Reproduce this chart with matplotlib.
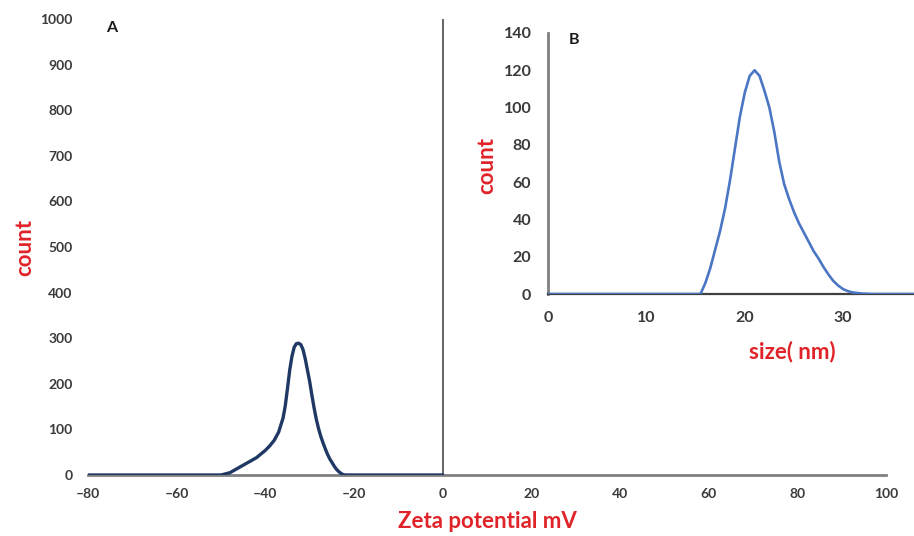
import matplotlib
matplotlib.use("Agg")
import matplotlib.pyplot as plt

plt.rcParams['font.family'] = ['Lato', 'DejaVu Sans']

# Panel A: zeta potential distribution
zeta_mv = [-80, -70, -60, -52, -50, -48, -46, -44, -42, -40, -39, -38, -37, -36,
           -35.5, -35, -34.5, -34, -33.5, -33, -32.5, -32, -31.5, -31, -30.5, -30,
           -29.5, -29, -28.5, -28, -27.5, -27, -26.5, -26, -25.5, -25, -24.5, -24,
           -23.5, -23, -22.5, -22, -20, -10, 0]
zeta_count = [0, 0, 0, 0, 0, 5, 16, 27, 38, 54, 64, 76, 94, 125,
              152, 190, 230, 260, 280, 288, 289, 286, 275, 255, 230, 205,
              175, 147, 122, 102, 85, 71, 58, 46, 36, 28, 20, 13,
              8, 4, 1, 0, 0, 0, 0]
zeta_xticks = [-80, -60, -40, -20, 0, 20, 40, 60, 80, 100]
zeta_yticks = [0, 100, 200, 300, 400, 500, 600, 700, 800, 900, 1000]

# Panel B: size distribution
size_nm = [0, 10, 15.5, 16, 16.5, 17, 17.5, 18, 18.5, 19, 19.5, 20, 20.5, 21,
           21.5, 22, 22.5, 23, 23.5, 24, 24.5, 25, 25.5, 26, 26.5, 27, 27.5, 28,
           28.5, 29, 29.5, 30, 30.5, 31, 32, 33, 37.2]
size_count = [0, 0, 0, 6, 14, 24, 34, 46, 61, 78, 95, 108, 117, 120,
              117, 109, 100, 87, 71, 59, 51, 44, 38, 33, 28, 23, 19, 14.5,
              10.5, 7, 4.5, 2.6, 1.5, 0.8, 0.2, 0, 0]
size_xticks = [0, 10, 20, 30]
size_yticks = [0, 20, 40, 60, 80, 100, 120, 140]

RED = '#e02328'
TICK = '#3a3a3a'

fig = plt.figure(figsize=(9.14, 5.36), dpi=100)

ax = fig.add_axes([88/914, 1-475/536, (886-88)/914, (475-19)/536])
ax.plot(zeta_mv, zeta_count, color='#1f3864', lw=2.4, zorder=3,
        solid_capstyle='round', solid_joinstyle='round')
ax.set_xlim(-80, 100)
ax.set_ylim(0, 1000)
for s in ['top', 'right', 'left']:
    ax.spines[s].set_visible(False)
ax.spines['bottom'].set_color('#808080')
ax.spines['bottom'].set_linewidth(2)
ax.axvline(0, ymin=0, ymax=1, color='#595959', lw=1.3, zorder=2)
ax.set_xticks(zeta_xticks)
ax.set_yticks(zeta_yticks)
ax.set_xticklabels([str(v).replace('-', '\u2013') for v in zeta_xticks])
ax.tick_params(axis='both', length=0, labelsize=10, colors=TICK)
ax.tick_params(axis='y', pad=11)
ax.tick_params(axis='x', pad=9)
for lab in ax.get_xticklabels() + ax.get_yticklabels():
    lab.set_fontweight('bold')
ax.set_xlabel('Zeta potential mV', color=RED, fontsize=16, fontweight='bold')
ax.xaxis.set_label_coords(0.5, -(522-475)/(475-19))
ax.xaxis.label.set_va('center')
ax.set_ylabel('count', color=RED, fontsize=16, fontweight='bold')
ax.yaxis.set_label_coords(-(88-25)/(886-88), (475-248)/(475-19))
ax.yaxis.label.set_va('center')
fig.text(112/914, 1-28/536, 'A', fontsize=11.5, fontweight='bold', color='#1a1a1a',
         va='center', ha='center')

# inset
ins = fig.add_axes([548/914, 1-294/536, (914-548)/914, (294-33)/536])
ins.plot(size_nm, size_count, color='#4a76c4', lw=1.9, zorder=3,
         solid_joinstyle='round')
ins.set_xlim(0, 37.2)
ins.set_ylim(0, 140)
for s in ['top', 'right']:
    ins.spines[s].set_visible(False)
ins.spines['left'].set_color('#808080')
ins.spines['left'].set_linewidth(2)
ins.spines['bottom'].set_color('#404040')
ins.spines['bottom'].set_linewidth(1.6)
ins.set_xticks(size_xticks)
ins.set_yticks(size_yticks)
ins.tick_params(axis='both', length=0, labelsize=11.5, colors=TICK)
ins.tick_params(axis='y', pad=12)
ins.tick_params(axis='x', pad=12)
for lab in ins.get_xticklabels() + ins.get_yticklabels():
    lab.set_fontweight('bold')
ins.set_xlabel('size( nm)', color=RED, fontsize=16, fontweight='bold')
ins.xaxis.set_label_coords((792-548)/(914-548), -(352-294)/(294-33))
ins.xaxis.label.set_va('center')
ins.set_ylabel('count', color=RED, fontsize=16, fontweight='bold')
ins.yaxis.set_label_coords(-(548-487)/(914-548), (294-165)/(294-33))
ins.yaxis.label.set_va('center')
fig.text(574/914, 1-40/536, 'B', fontsize=11.5, fontweight='bold', color='#1a1a1a',
         va='center', ha='center')

fig.savefig('out.png', dpi=100)
